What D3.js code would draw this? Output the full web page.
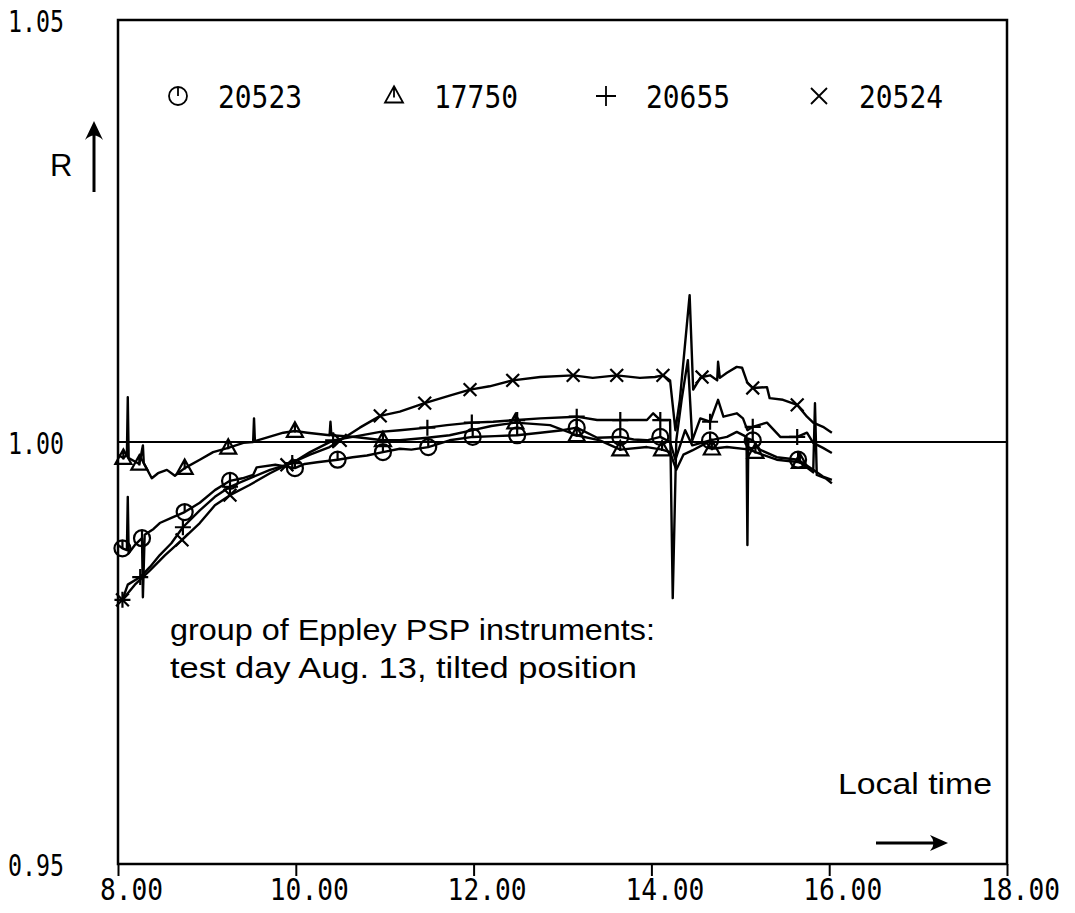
<!DOCTYPE html>
<html><head><meta charset="utf-8">
<script src="https://cdn.jsdelivr.net/npm/d3@7"></script>
<style>body{margin:0;background:#fff}</style>
</head><body>
<svg id="c" width="1075" height="913"></svg>
<script>
const xTicks=[8,10,12,14,16,18];
const yTicks=[0.95,1.00,1.05];
const seriesNames=["20523","17750","20655","20524"];
const seriesSymbols=["circle","triangle","plus","cross"];
const referenceValue=1.00;

const s20523=[[8.00,0.9878],[8.05,0.9874],[8.10,0.9872],[8.11,0.9935],[8.12,0.9868],[8.19,0.9878],[8.27,0.9886],[8.28,0.9816],[8.30,0.9890],[8.40,0.9897],[8.47,0.9904],[8.60,0.9910],[8.75,0.9917],[8.92,0.9928],[9.09,0.9943],[9.26,0.9954],[9.40,0.9957],[9.52,0.9961],[9.56,0.9970],[9.77,0.9973],[9.99,0.9969],[10.10,0.9974],[10.24,0.9976],[10.47,0.9979],[10.64,0.9982],[10.80,0.9984],[10.98,0.9988],[11.17,0.9992],[11.30,0.9991],[11.49,0.9994],[11.73,1.0002],[11.99,1.0006],[12.24,1.0007],[12.49,1.0008],[12.75,1.0011],[13.00,1.0014],[13.16,1.0017],[13.39,1.0005],[13.65,1.0006],[13.80,1.0003],[13.95,1.0002],[14.10,1.0006],[14.21,1.0000],[14.27,0.9979],[14.38,1.0014],[14.46,0.9996],[14.66,1.0002],[14.85,1.0006],[14.96,1.0012],[15.07,1.0006],[15.08,0.9878],[15.09,1.0004],[15.14,1.0002],[15.22,0.9991],[15.41,0.9982],[15.65,0.9979],[15.82,0.9967],[15.93,0.9959],[16.03,0.9955]];
const m20523=[[8.05,0.9874],[8.27,0.9886],[8.75,0.9917],[9.26,0.9954],[9.99,0.9969],[10.47,0.9979],[10.98,0.9988],[11.49,0.9994],[11.99,1.0006],[12.49,1.0008],[13.16,1.0017],[13.65,1.0006],[14.10,1.0006],[14.66,1.0002],[15.14,1.0002],[15.65,0.9979]];

const s17750=[[8.00,0.9985],[8.06,0.9981],[8.10,0.9985],[8.11,1.0053],[8.12,0.9981],[8.24,0.9974],[8.28,0.9996],[8.29,0.9975],[8.38,0.9957],[8.45,0.9963],[8.55,0.9967],[8.64,0.9960],[8.75,0.9969],[8.92,0.9979],[9.07,0.9988],[9.24,0.9993],[9.41,0.9999],[9.52,1.0000],[9.53,1.0028],[9.54,1.0001],[9.70,1.0006],[9.86,1.0011],[9.99,1.0013],[10.13,1.0011],[10.38,1.0008],[10.39,1.0024],[10.40,1.0008],[10.67,1.0006],[10.98,1.0002],[11.17,1.0002],[11.48,1.0005],[11.73,1.0008],[11.99,1.0014],[12.20,1.0019],[12.47,1.0023],[12.86,1.0020],[13.16,1.0008],[13.42,1.0002],[13.65,0.9991],[13.95,0.9994],[14.12,0.9991],[14.21,0.9988],[14.28,0.9967],[14.36,0.9985],[14.46,0.9990],[14.62,0.9999],[14.68,0.9992],[14.85,0.9994],[15.11,0.9991],[15.17,0.9988],[15.41,0.9979],[15.67,0.9976],[15.82,0.9964],[15.84,1.0046],[15.86,0.9961],[15.96,0.9957],[16.03,0.9951]];
const m17750=[[8.06,0.9981],[8.24,0.9974],[8.75,0.9969],[9.24,0.9993],[9.99,1.0013],[10.98,1.0002],[12.47,1.0023],[13.16,1.0008],[13.65,0.9991],[14.12,0.9991],[14.68,0.9992],[15.17,0.9988],[15.67,0.9976]];

const s20655=[[8.05,0.9813],[8.11,0.9831],[8.25,0.9840],[8.36,0.9852],[8.47,0.9866],[8.60,0.9880],[8.73,0.9899],[8.92,0.9919],[9.09,0.9935],[9.26,0.9947],[9.48,0.9957],[9.71,0.9967],[9.96,0.9975],[10.16,0.9988],[10.42,1.0002],[10.64,1.0006],[10.95,1.0012],[11.17,1.0014],[11.48,1.0017],[11.70,1.0020],[11.98,1.0023],[12.22,1.0024],[12.49,1.0026],[12.75,1.0028],[13.16,1.0030],[13.39,1.0026],[13.65,1.0026],[13.95,1.0026],[14.02,1.0034],[14.10,1.0026],[14.21,1.0026],[14.24,0.9815],[14.28,1.0002],[14.34,1.0050],[14.41,1.0097],[14.46,1.0002],[14.55,1.0028],[14.66,1.0024],[14.75,1.0050],[14.81,1.0030],[14.96,1.0034],[15.03,1.0028],[15.08,1.0014],[15.14,1.0018],[15.30,1.0023],[15.45,1.0006],[15.64,1.0006],[15.75,1.0011],[15.82,0.9999],[15.93,0.9993],[16.03,0.9987]];
const m20655=[[8.05,0.9813],[8.25,0.9840],[8.73,0.9899],[9.26,0.9947],[9.96,0.9975],[10.42,1.0002],[11.48,1.0017],[11.98,1.0023],[12.49,1.0026],[13.16,1.0030],[13.65,1.0026],[14.10,1.0026],[14.66,1.0024],[15.14,1.0018],[15.64,1.0006]];

const s20524=[[8.00,0.9813],[8.05,0.9813],[8.19,0.9831],[8.36,0.9848],[8.53,0.9866],[8.72,0.9884],[8.92,0.9904],[9.09,0.9925],[9.26,0.9937],[9.48,0.9949],[9.71,0.9963],[9.90,0.9973],[10.16,0.9985],[10.38,0.9994],[10.50,1.0002],[10.72,1.0017],[10.95,1.0031],[11.17,1.0036],[11.45,1.0046],[11.73,1.0055],[11.96,1.0062],[12.18,1.0066],[12.44,1.0073],[12.75,1.0077],[13.12,1.0079],[13.34,1.0076],[13.61,1.0079],[13.87,1.0076],[14.04,1.0077],[14.13,1.0079],[14.21,1.0073],[14.27,1.0014],[14.32,1.0050],[14.43,1.0174],[14.47,1.0062],[14.55,1.0076],[14.57,1.0077],[14.66,1.0079],[14.74,1.0073],[14.75,1.0095],[14.77,1.0076],[14.85,1.0082],[14.96,1.0089],[15.02,1.0088],[15.08,1.0070],[15.14,1.0064],[15.30,1.0065],[15.33,1.0052],[15.48,1.0050],[15.64,1.0044],[15.75,1.0030],[15.82,1.0023],[15.93,1.0018],[16.03,1.0011]];
const m20524=[[8.05,0.9813],[8.72,0.9884],[9.26,0.9937],[9.90,0.9973],[10.50,1.0002],[10.95,1.0031],[11.45,1.0046],[11.96,1.0062],[12.44,1.0073],[13.12,1.0079],[13.61,1.0079],[14.13,1.0079],[14.57,1.0077],[15.14,1.0064],[15.64,1.0044]];

const lineData=[s20523,s17750,s20655,s20524];
const markerData=[m20523,m17750,m20655,m20524];

const svg=d3.select("#c");
svg.append("rect").attr("width",1075).attr("height",913).attr("fill","#fff");
const x=d3.scaleLinear().domain([8,18]).range([118,1007]);
const y=d3.scaleLinear().domain([0.95,1.05]).range([864,20]);
const monoFont="'DejaVu Sans Mono', monospace";
const sansFont="'Liberation Sans', Arial, sans-serif";

function symbolPath(kind,s){
  if(kind==="circle"){return `M${-s},0A${s},${s} 0 1,0 ${s},0A${s},${s} 0 1,0 ${-s},0M0,${-s}L0,0`;}
  if(kind==="triangle"){const h=s*1.8;return `M0,${-h*0.6}L${s},${h*0.4}L${-s},${h*0.4}ZM0,${-h*0.6}L0,${h*0.1}`;}
  if(kind==="plus"){return `M${-s},0L${s},0M0,${-s}L0,${s}`;}
  return `M${-s*0.8},${-s*0.8}L${s*0.8},${s*0.8}M${-s*0.8},${s*0.8}L${s*0.8},${-s*0.8}`;
}

// x axis ticks
const xAxis=d3.axisBottom(x).tickValues(xTicks).tickFormat(d3.format(".2f")).tickSize(12).tickPadding(8);
const gx=svg.append("g").attr("transform","translate(0,864)").call(xAxis);
gx.select(".domain").remove();
gx.selectAll(".tick line").attr("stroke","#000").attr("stroke-width",2);
gx.selectAll(".tick text").attr("font-family",monoFont).attr("font-size",31).attr("fill","#000")
  .attr("dx",13).attr("dy","0.5em")
  .each(function(){const t=d3.select(this);t.attr("textLength",t.text().length*15.8).attr("lengthAdjust","spacingAndGlyphs");});

// y axis labels
const yAxis=d3.axisLeft(y).tickValues(yTicks).tickFormat(d3.format(".2f")).tickSize(0).tickPadding(0);
const gy=svg.append("g").attr("transform","translate(118,0)").call(yAxis);
gy.select(".domain").remove();
gy.selectAll(".tick text").attr("font-family",monoFont).attr("font-size",31).attr("fill","#000")
  .attr("text-anchor","start").attr("x",-110).attr("dy","0.36em")
  .attr("textLength",56).attr("lengthAdjust","spacingAndGlyphs");

// frame
svg.append("rect").attr("x",118).attr("y",20).attr("width",1007-118).attr("height",864-20)
  .attr("fill","none").attr("stroke","#000").attr("stroke-width",2.5);
// reference line
svg.append("line").attr("x1",x(8)).attr("x2",x(18)).attr("y1",y(referenceValue)).attr("y2",y(referenceValue))
  .attr("stroke","#000").attr("stroke-width",2.2);

// series
const line=d3.line().x(d=>x(d[0])).y(d=>y(d[1]));
lineData.forEach((s,i)=>{
  svg.append("path").attr("d",line(s)).attr("fill","none").attr("stroke","#000")
    .attr("stroke-width",2.4).attr("stroke-linejoin","round");
  svg.append("g").selectAll("path").data(markerData[i]).join("path")
    .attr("transform",d=>`translate(${x(d[0])},${y(d[1])})`)
    .attr("d",symbolPath(seriesSymbols[i],8))
    .attr("fill","none").attr("stroke","#000").attr("stroke-width",2.2);
});

// legend
const legX=[178,394,606,819];
seriesNames.forEach((n,i)=>{
  svg.append("path").attr("transform",`translate(${legX[i]},96)`)
    .attr("d",symbolPath(seriesSymbols[i],i<2?9:10))
    .attr("fill","none").attr("stroke","#000").attr("stroke-width",1.8);
  svg.append("text").attr("x",legX[i]+40).attr("y",108).text(n)
    .attr("font-family",monoFont).attr("font-size",32).attr("fill","#000")
    .attr("textLength",84).attr("lengthAdjust","spacingAndGlyphs");
});

// R arrow
svg.append("text").attr("x",50).attr("y",176).text("R").attr("font-family",sansFont).attr("font-size",31).attr("fill","#000");
svg.append("line").attr("x1",94).attr("x2",94).attr("y1",192).attr("y2",130).attr("stroke","#000").attr("stroke-width",3);
svg.append("path").attr("d","M94,121 L85,140 Q94,131 103,140 Z").attr("fill","#000");

// annotation
svg.append("text").attr("x",170).attr("y",640).text("group of Eppley PSP instruments:")
  .attr("font-family",sansFont).attr("font-size",29).attr("fill","#000").attr("textLength",485).attr("lengthAdjust","spacingAndGlyphs");
svg.append("text").attr("x",170).attr("y",678).text("test day Aug. 13, tilted position")
  .attr("font-family",sansFont).attr("font-size",29).attr("fill","#000").attr("textLength",467).attr("lengthAdjust","spacingAndGlyphs");
svg.append("text").attr("x",838).attr("y",794).text("Local time")
  .attr("font-family",sansFont).attr("font-size",29).attr("fill","#000").attr("textLength",154).attr("lengthAdjust","spacingAndGlyphs");
svg.append("line").attr("x1",876).attr("x2",940).attr("y1",843).attr("y2",843).attr("stroke","#000").attr("stroke-width",3);
svg.append("path").attr("d","M948,843 L930,835 Q937,843 930,851 Z").attr("fill","#000");
</script>
</body></html>
